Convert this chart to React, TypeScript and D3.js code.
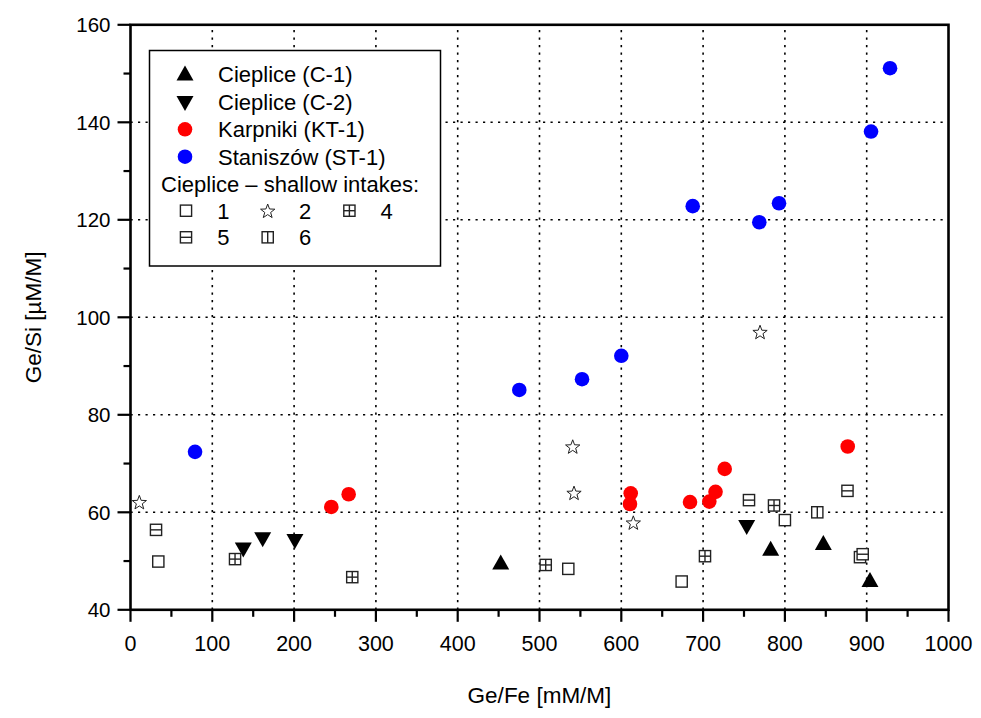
import React from "react";
import * as d3 from "d3";

// Ge/Fe [mM/M], Ge/Si [µM/M]
const cieplice1 = [[452.6, 49.5], [782.6, 52.3], [847, 53.5], [904, 45.9]];
const cieplice2 = [[137.9, 52.6], [161.6, 54.7], [201, 54.3], [753.3, 57.2]];
const karpniki = [
  [245.5, 61.1], [266.7, 63.7], [610.6, 61.7], [611.5, 63.9], [684, 62.1],
  [707.6, 62.2], [715.2, 64.2], [726.4, 68.9], [876.8, 73.5],
];
const staniszow = [
  [78.9, 72.4], [475.3, 85.1], [552, 87.3], [600, 92.1], [687.3, 122.8],
  [768.7, 119.5], [792.8, 123.4], [905.3, 138.1], [928.5, 151.1],
];
const intake1 = [[34, 49.9], [535.2, 48.4], [673.8, 45.8], [800, 58.4], [891.8, 50.8]];
const intake2 = [[10.8, 62.1], [540.6, 73.5], [542.2, 64.0], [614.7, 57.9], [769.6, 97.0]];
const intake4 = [[127.8, 50.4], [271.1, 46.7], [507.6, 49.2], [702.3, 51.0], [786.7, 61.4]];
const intake5 = [[31.2, 56.4], [756.1, 62.5], [876.5, 64.4], [895.1, 51.4]];
const intake6 = [[839.6, 60.0]];

const seriesLegend = ["Cieplice (C-1)", "Cieplice (C-2)", "Karpniki (KT-1)", "Staniszów (ST-1)"];
const intakeTitle = "Cieplice \u2013 shallow intakes:";
const intakeLabels = ["1", "2", "4", "5", "6"];

const FONT = "'Liberation Sans', Arial, sans-serif";

type Kind = "up" | "down" | "red" | "blue" | "sq" | "star" | "grid" | "hline" | "vline";

function Marker({ kind, cx, cy }: { kind: Kind; cx: number; cy: number }) {
  const t = `translate(${cx},${cy})`;
  if (kind === "up" || kind === "down") {
    const s = 8.5;
    const h = 15;
    const p = kind === "up"
      ? `M0,${-h * 0.6}L${s},${h * 0.4}L${-s},${h * 0.4}Z`
      : `M0,${h * 0.6}L${s},${-h * 0.4}L${-s},${-h * 0.4}Z`;
    return <path transform={t} d={p} fill="#000" />;
  }
  if (kind === "red" || kind === "blue") {
    return <circle cx={cx} cy={cy} r={7.3} fill={kind === "red" ? "#ff0000" : "#0000ff"} />;
  }
  if (kind === "star") {
    const pts = d3.range(10).map((i) => {
      const r = i % 2 === 0 ? 7.5 : 3.1;
      const a = (i * Math.PI) / 5 - Math.PI / 2;
      return [r * Math.cos(a), r * Math.sin(a) + 0.8];
    });
    return (
      <path transform={t} d={"M" + pts.map((p) => p.join(",")).join("L") + "Z"}
        fill="#fff" stroke="#222" strokeWidth={1} />
    );
  }
  const h = 5.6;
  return (
    <g transform={t} stroke="#222" strokeWidth={1.4} fill="#fff">
      <rect x={-h} y={-h} width={2 * h} height={2 * h} />
      {(kind === "grid" || kind === "hline") && <line x1={-h} x2={h} y1={0} y2={0} />}
      {(kind === "grid" || kind === "vline") && <line x1={0} x2={0} y1={-h} y2={h} />}
    </g>
  );
}

export default function App() {
  const W = 981;
  const H = 718;
  const x = d3.scaleLinear().domain([0, 1000]).range([130.5, 948.5]);
  const y = d3.scaleLinear().domain([40, 160]).range([609.8, 24.8]);
  const [x0, x1] = x.range();
  const [y0, y1] = y.range();

  const xMajor = x.ticks(10);
  const xMinor = d3.range(50, 1000, 100);
  const yMajor = y.ticks(6);
  const yMinor = d3.range(50, 160, 20);

  const groups: [number[][], Kind][] = [
    [cieplice1, "up"],
    [cieplice2, "down"],
    [karpniki, "red"],
    [staniszow, "blue"],
    [intake1, "sq"],
    [intake2, "star"],
    [intake4, "grid"],
    [intake5, "hline"],
    [intake6, "vline"],
  ];

  const legendKinds: Kind[] = ["up", "down", "red", "blue"];
  const intakeKinds: Kind[] = ["sq", "star", "grid", "hline", "vline"];

  return (
    <svg width={W} height={H} style={{ position: "absolute", left: 0, top: 0, background: "#fff" }}
      fontFamily={FONT}>
      <rect width={W} height={H} fill="#fff" />
      {/* grid */}
      <g stroke="#000" strokeWidth={1.6} strokeDasharray="2.2,5.3">
        {xMajor.filter((d) => d > 0 && d < 1000).map((d) => (
          <line key={"gx" + d} x1={x(d)} x2={x(d)} y1={y0} y2={y1} />
        ))}
        {yMajor.filter((d) => d > 40 && d < 160).map((d) => (
          <line key={"gy" + d} x1={x0} x2={x1} y1={y(d)} y2={y(d)} />
        ))}
      </g>
      {/* points */}
      {groups.map(([data, kind], gi) => (
        <g key={gi}>
          {data.map((d, i) => <Marker key={i} kind={kind} cx={x(d[0])} cy={y(d[1])} />)}
        </g>
      ))}
      {/* legend */}
      <g>
        <rect x={149.5} y={50.5} width={291} height={215.5} fill="#fff" stroke="#000" strokeWidth={1.5} />
        {seriesLegend.map((s, i) => (
          <g key={s}>
            <Marker kind={legendKinds[i]} cx={185} cy={74.5 + i * 27.4} />
            <text x={218} y={74.5 + i * 27.4} dy="0.36em" fontSize={22}>{s}</text>
          </g>
        ))}
        <text x={161} y={184.3} dy="0.36em" fontSize={22}>{intakeTitle}</text>
        {intakeLabels.map((s, i) => {
          const col = i % 3;
          const row = Math.floor(i / 3);
          const cx = 186 + col * 81.7;
          const cy = 210.7 + row * 26.6;
          return (
            <g key={s}>
              <Marker kind={intakeKinds[i]} cx={cx} cy={cy} />
              <text x={cx + 37.3} y={cy} dy="0.36em" fontSize={22} textAnchor="middle">{s}</text>
            </g>
          );
        })}
      </g>
      {/* frame */}
      <rect x={x0} y={y1} width={x1 - x0} height={y0 - y1} fill="none" stroke="#000" strokeWidth={2.6} />
      {/* ticks */}
      <g stroke="#000" strokeWidth={2.2}>
        {xMajor.map((d) => <line key={"tx" + d} x1={x(d)} x2={x(d)} y1={y0} y2={y0 + 12} />)}
        {xMinor.map((d) => <line key={"mx" + d} x1={x(d)} x2={x(d)} y1={y0} y2={y0 + 7} />)}
        {yMajor.map((d) => <line key={"ty" + d} x1={x0} x2={x0 - 13} y1={y(d)} y2={y(d)} />)}
        {yMinor.map((d) => <line key={"my" + d} x1={x0} x2={x0 - 7} y1={y(d)} y2={y(d)} />)}
      </g>
      <g fill="#000">
        {xMajor.map((d) => (
          <text key={"lx" + d} x={x(d)} y={y0 + 33} dy="0.36em" textAnchor="middle" fontSize={21.5}>{d}</text>
        ))}
        {yMajor.map((d) => (
          <text key={"ly" + d} x={x0 - 20} y={y(d)} dy="0.36em" textAnchor="end" fontSize={20.5}>{d}</text>
        ))}
      </g>
      <text x={(x0 + x1) / 2} y={695} dy="0.36em" textAnchor="middle" fontSize={22.5}>Ge/Fe [mM/M]</text>
      <text transform={`translate(33,${(y0 + y1) / 2}) rotate(-90)`} dy="0.36em" textAnchor="middle" fontSize={22.5}>
        Ge/Si [µM/M]
      </text>
    </svg>
  );
}
